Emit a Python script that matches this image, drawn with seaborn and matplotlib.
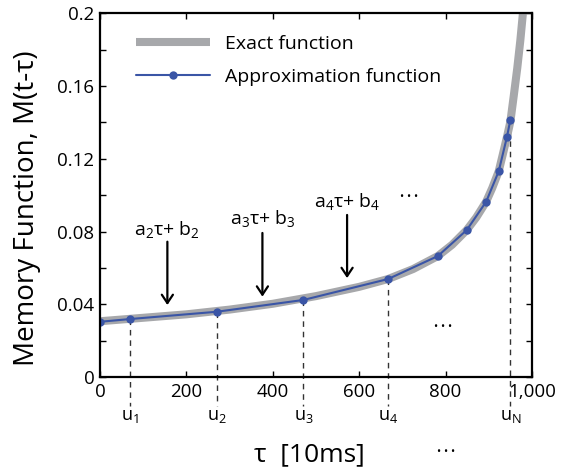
import matplotlib

matplotlib.use("Agg")
import matplotlib.pyplot as plt  # noqa: E402
import numpy as np  # noqa: E402
import pandas as pd  # noqa: E402
import seaborn as sns  # noqa: E402

# exact memory function
exact_tau = [0, 100, 200, 300, 400, 500, 600, 667, 725, 782, 815, 849, 871, 894, 908, 923,
             932, 942, 950, 958, 966, 973, 979, 985]
exact_m = [0.0308, 0.0327, 0.0346, 0.0372, 0.0404, 0.0446, 0.0497, 0.0540, 0.0595, 0.0666,
           0.0728, 0.0809, 0.0878, 0.0965, 0.1040, 0.1132, 0.1220, 0.1320, 0.1405, 0.1550,
           0.1700, 0.1850, 0.2000, 0.2200]

# piecewise-linear approximation nodes
approx_tau = [0, 69, 270, 471, 667, 782, 849, 894, 923, 942, 950]
approx_m = [0.0305, 0.0320, 0.0360, 0.0425, 0.0540, 0.0666, 0.0809, 0.0965, 0.1132, 0.1320, 0.1415]

# breakpoints u1..u4, uN (index into approx nodes)
u_idx = [1, 2, 3, 4, 10]
u_labels = ["u$_1$", "u$_2$", "u$_3$", "u$_4$", "u$_\\mathregular{N}$"]

# segment annotations: text, x, text baseline, arrow top, arrow tip
seg_labels = ["a$_2$τ+ b$_2$", "a$_3$τ+ b$_3$", "a$_4$τ+ b$_4$"]
seg_x = [156, 376, 572]
seg_text_y = [0.0780, 0.0843, 0.0938]
seg_arrow_top = [0.0745, 0.0793, 0.0892]
seg_arrow_tip = [0.0397, 0.0443, 0.0545]

# "..." marks
dots_x = [715, 794, 802]
dots_y = [0.0990, 0.0273, -0.0415]

GRAY = "#A7A8AB"
BLUE = "#3A55A6"

sns.set_style("ticks")
plt.rcParams["font.family"] = ["Open Sans", "DejaVu Sans"]
plt.rcParams["mathtext.fontset"] = "custom"
plt.rcParams["mathtext.rm"] = "Open Sans"
plt.rcParams["mathtext.it"] = "Open Sans"
plt.rcParams["mathtext.default"] = "regular"
for k in ["text.color", "axes.labelcolor", "xtick.color", "ytick.color", "axes.edgecolor"]:
    plt.rcParams[k] = "black"

fig = plt.figure(figsize=(5.7, 4.74), dpi=100)
ax = fig.add_axes([0.1754, 0.204, 0.7579, 0.768])

exact = pd.DataFrame({"tau": exact_tau, "m": exact_m})
approx = pd.DataFrame({"tau": approx_tau, "m": approx_m})

sns.lineplot(data=exact, x="tau", y="m", ax=ax, color=GRAY, lw=5.8, solid_capstyle="butt",
             solid_joinstyle="round", label="Exact function")
sns.lineplot(data=approx, x="tau", y="m", ax=ax, color=BLUE, lw=1.5, marker="o",
             markersize=6, markeredgewidth=0, label="Approximation function")

# dashed drop lines at the breakpoints
for i, lab in zip(u_idx, u_labels):
    ax.plot([approx_tau[i], approx_tau[i]], [approx_m[i], -0.016], ls=(0, (4, 3.5)),
            color="#333333", lw=1, clip_on=False, zorder=1)
    ax.text(approx_tau[i], -0.0215, lab, ha="center", va="center", fontsize=13)

for lab, x, ty, a0, a1 in zip(seg_labels, seg_x, seg_text_y, seg_arrow_top, seg_arrow_tip):
    ax.text(x, ty, lab, ha="center", va="baseline", fontsize=14)
    ax.annotate("", xy=(x, a1), xytext=(x, a0),
                arrowprops=dict(arrowstyle="->,head_length=0.6,head_width=0.4",
                                color="black", lw=1.6, shrinkA=0, shrinkB=0))

for x, y in zip(dots_x, dots_y):
    ax.text(x, y, "• • •", ha="center", va="center", fontsize=8, clip_on=False)

ax.set_xlim(0, 1000)
ax.set_ylim(0, 0.2)
ax.set_xticks([0, 200, 400, 600, 800, 1000])
ax.set_xticklabels(["0", "200", "400", "600", "800", "1,000"])
ax.set_yticks([0, 0.04, 0.08, 0.12, 0.16, 0.2])
ax.set_yticklabels(["0", "0.04", "0.08", "0.12", "0.16", "0.2"])
ax.set_yticks(np.arange(0.02, 0.2, 0.04), minor=True)
ax.tick_params(which="both", direction="in", top=True, right=True, labelsize=13.5,
               length=4, width=1, pad=4)
for s in ax.spines.values():
    s.set_linewidth(1.6)

ax.set_xlabel("τ  [10ms]", fontsize=19)
ax.xaxis.set_label_coords(0.484, -0.2135)
ax.xaxis.label.set_va("center")
ax.set_ylabel("Memory Function, M(t-τ)", fontsize=20)
ax.yaxis.set_label_coords(-0.169, 0.465)
ax.yaxis.label.set_va("center")

ax.legend(loc="upper left", frameon=False, fontsize=14, handlelength=3.8,
          borderpad=0, borderaxespad=0, labelspacing=0.75, handletextpad=0.8,
          bbox_to_anchor=(0.083, 0.94))

fig.savefig("out.png", dpi=100)
